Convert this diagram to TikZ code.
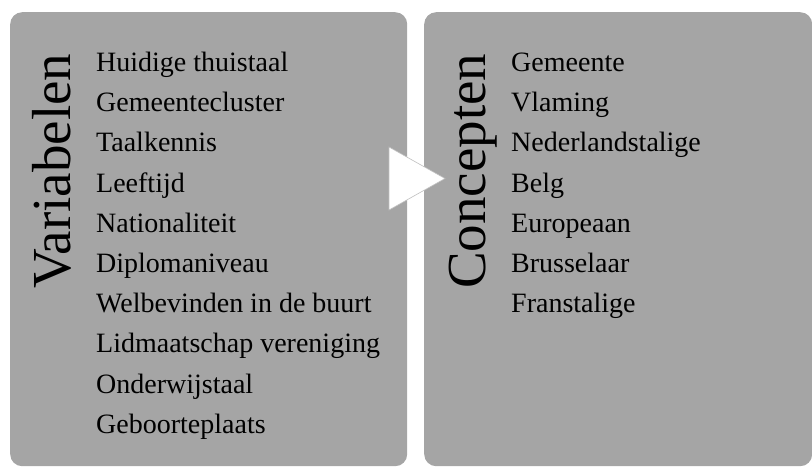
\documentclass[tikz,border=0pt]{standalone}
\usepackage{fontspec}
\setmainfont{Liberation Serif}
\usepackage{xcolor}
\definecolor{panelGrey}{HTML}{A5A5A5}
\usetikzlibrary{positioning,calc}
\tikzset{%
  panelBox/.style={%
    rectangle,
    rounded corners=12pt,
    fill=panelGrey,
    inner sep=0pt,
    anchor=north west
  },
  panelTitle/.style={%
    rotate=90,
    anchor=base west,
    inner sep=0pt,
    font=\fontsize{55}{60}\selectfont
  },
  itemText/.style={%
    anchor=base west,
    inner sep=0pt,
    font=\fontsize{28}{34}\selectfont
  },
  flowArrow/.style={%
    fill=white,
    draw=black!25,
    line width=0.6pt
  }
}

\begin{document}
\begin{tikzpicture}[x=1pt,y=-1pt]
  \useasboundingbox (0,0) rectangle (812,467);

  % panels
  \node[panelBox, minimum width=397pt, minimum height=454pt] (varBox) at (10,12) {};
  \node[panelBox, minimum width=388pt, minimum height=454pt] (conBox) at (424,12) {};

  % titles
  \node[panelTitle] (varTitle) at (70,289) {Variabelen};
  \node[panelTitle] (conTitle) at (485,289) {Concepten};

  % lists
  \foreach \txt [count=\i] in {Huidige thuistaal, Gemeentecluster, Taalkennis,
      Leeftijd, Nationaliteit, Diplomaniveau, Welbevinden in de buurt,
      Lidmaatschap vereniging, Onderwijstaal, Geboorteplaats}
    \node[itemText] (var\i) at (96,{71.5+40.2*(\i-1)}) {\txt};
  \foreach \txt [count=\i] in {Gemeente, Vlaming, Nederlandstalige, Belg,
      Europeaan, Brusselaar, Franstalige}
    \node[itemText] (con\i) at (511,{71.5+40.2*(\i-1)}) {\txt};

  % arrow between panels
  \draw[flowArrow] (389,147) -- (445,178.5) -- (389,210) -- cycle;
\end{tikzpicture}
\end{document}
